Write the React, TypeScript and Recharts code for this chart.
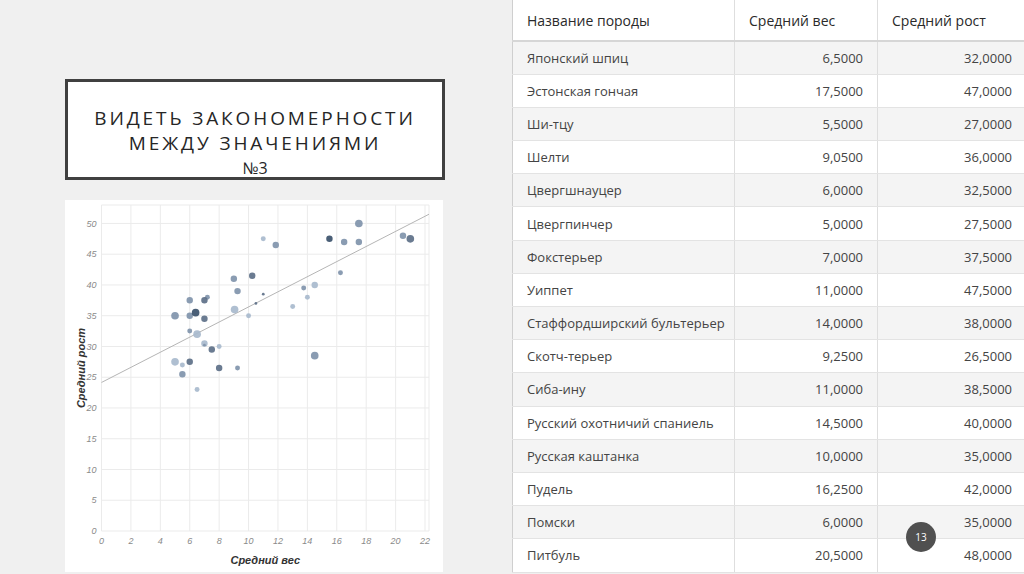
import {
  CartesianGrid,
  ReferenceLine,
  Scatter,
  ScatterChart,
  XAxis,
  YAxis,
  ZAxis,
} from "recharts";

// таблица пород
const breeds = [
  "Японский шпиц",
  "Эстонская гончая",
  "Ши-тцу",
  "Шелти",
  "Цвергшнауцер",
  "Цвергпинчер",
  "Фокстерьер",
  "Уиппет",
  "Стаффордширский бультерьер",
  "Скотч-терьер",
  "Сиба-ину",
  "Русский охотничий спаниель",
  "Русская каштанка",
  "Пудель",
  "Помски",
  "Питбуль",
];
const avgWeight = [6.5, 17.5, 5.5, 9.05, 6, 5, 7, 11, 14, 9.25, 11, 14.5, 10, 16.25, 6, 20.5];
const avgHeight = [32, 47, 27, 36, 32.5, 27.5, 37.5, 47.5, 38, 26.5, 38.5, 40, 35, 42, 35, 48];

// точки диаграммы рассеяния
const pointWeight = [
  5, 5, 5.5, 5.5, 6, 6, 6, 6, 6.4, 6.5, 6.5, 7, 7.2, 7, 7, 7, 7.5, 8, 8, 9, 9.05, 9.25, 9.25, 10,
  10.25, 10.5, 11, 11, 11.85, 13, 13.75, 14, 14.5, 14.5, 15.5, 16.5, 16.25, 17.5, 17.5, 20.5, 21,
];
const pointHeight = [
  35, 27.5, 27, 25.5, 37.5, 35, 32.5, 27.5, 35.5, 32, 23, 37.5, 38, 34.5, 30.5, 30.2, 29.5, 30, 26.5,
  41, 36, 39, 26.5, 35, 41.5, 37, 47.5, 38.5, 46.5, 36.5, 39.5, 38, 40, 28.5, 47.5, 47, 42, 50, 47,
  48, 47.5,
];
const pointCount = [
  4, 4, 2, 3, 3, 3, 2, 3, 4, 4, 2, 3, 2, 3, 3, 1, 3, 2, 3, 3, 4, 3, 2, 2, 3, 1, 2, 1, 3, 2, 2, 2, 3,
  4, 3, 3, 2, 4, 3, 3, 4,
];
const pointGroup = [
  1, 0, 0, 1, 1, 1, 1, 2, 3, 0, 0, 2, 1, 2, 0, 1, 2, 0, 2, 1, 0, 1, 1, 0, 2, 2, 0, 2, 1, 0, 1, 0, 0,
  1, 3, 1, 1, 1, 1, 1, 2,
];
const trendStart = { x: 0, y: 24.15 };
const trendEnd = { x: 22.27, y: 51.5 };

const xTicks = [0, 2, 4, 6, 8, 10, 12, 14, 16, 18, 20, 22];
const yTicks = [0, 5, 10, 15, 20, 25, 30, 35, 40, 45, 50];

const groupColors = ["#a8bacd", "#8094ab", "#5d7088", "#3b516b"];

const points = pointWeight.map((x, i) => ({
  x,
  y: pointHeight[i],
  z: pointCount[i],
  g: pointGroup[i],
}));

const fmt = (v: number) => v.toFixed(4).replace(".", ",");

const tickStyle = {
  fill: "#8a8a8a",
  fontSize: 9,
  fontStyle: "italic",
  fontFamily: "Liberation Sans, sans-serif",
};

const titleFont = {
  fill: "#333",
  fontSize: 11,
  fontStyle: "italic",
  fontWeight: 700,
  fontFamily: "Liberation Sans, sans-serif",
};

function YTitle(props: any) {
  const vb = props.viewBox || { x: 0, y: 0, width: 0, height: 0 };
  const cx = 16;
  const cy = vb.y + vb.height / 2;
  return (
    <text
      transform={`translate(${cx},${cy}) rotate(-90)`}
      textAnchor="middle"
      dominantBaseline="central"
      style={titleFont}
    >
      Средний рост
    </text>
  );
}

function XTitle(props: any) {
  const vb = props.viewBox || { x: 0, y: 0, width: 0, height: 0 };
  return (
    <text
      x={vb.x + vb.width / 2}
      y={360}
      textAnchor="middle"
      dominantBaseline="central"
      style={titleFont}
    >
      Средний вес
    </text>
  );
}

const cellBase: React.CSSProperties = {
  borderBottom: "1px solid #e3e3e3",
  borderRight: "1px solid #dedede",
  padding: "0 14px",
  whiteSpace: "nowrap",
  overflow: "hidden",
};

export default function App() {
  return (
    <div
      style={{
        position: "absolute",
        left: 0,
        top: 0,
        width: 1024,
        height: 574,
        overflow: "hidden",
        background: "#f0f0f0",
        fontFamily: "'Open Sans', sans-serif",
      }}
    >
      <div
        style={{
          position: "absolute",
          left: 65,
          top: 79,
          width: 380,
          height: 101,
          boxSizing: "border-box",
          border: "3px solid #404040",
          background: "#fff",
          textAlign: "center",
          color: "#262626",
          paddingTop: 24,
        }}
      >
        <div style={{ fontSize: 19, letterSpacing: 2.9, lineHeight: "25px" }}>ВИДЕТЬ ЗАКОНОМЕРНОСТИ</div>
        <div style={{ fontSize: 19, letterSpacing: 2.9, lineHeight: "25px" }}>МЕЖДУ ЗНАЧЕНИЯМИ</div>
        <div style={{ fontSize: 16, lineHeight: "24px" }}>№3</div>
      </div>

      <div style={{ position: "absolute", left: 65, top: 200, width: 378, height: 372, background: "#fff" }}>
        <ScatterChart width={378} height={372} margin={{ top: 5, right: 14, left: 0, bottom: 0 }}>
          <CartesianGrid stroke="#ebebeb" strokeWidth={1} />
          <XAxis
            type="number"
            dataKey="x"
            domain={[0, 22.27]}
            ticks={xTicks}
            interval={0}
            axisLine={false}
            tickLine={false}
            tickSize={5}
            tickMargin={2}
            height={41}
            tick={tickStyle}
            label={<XTitle />}
          />
          <YAxis
            type="number"
            dataKey="y"
            domain={[0, 53]}
            ticks={yTicks}
            interval={0}
            axisLine={false}
            tickLine={false}
            tickSize={3}
            tickMargin={2}
            width={36.5}
            tick={tickStyle}
            label={<YTitle />}
          />
          <ZAxis type="number" dataKey="z" domain={[1, 4]} range={[6, 46]} />
          <ReferenceLine
            segment={[trendStart, trendEnd]}
            stroke="#b5b5b5"
            strokeWidth={1}
            ifOverflow="visible"
          />
          {groupColors.map((c, gi) => (
            <Scatter
              key={gi}
              data={points.filter((p) => p.g === gi)}
              fill={c}
              fillOpacity={0.92}
              shape="circle"
              isAnimationActive={false}
            />
          ))}
        </ScatterChart>
      </div>

      <table
        style={{
          position: "absolute",
          left: 512,
          top: 0,
          width: 525,
          borderCollapse: "collapse",
          tableLayout: "fixed",
          background: "#fff",
          borderLeft: "1px solid #cfcfcf",
          color: "#444",
          fontSize: 13,
        }}
      >
        <colgroup>
          <col style={{ width: 222 }} />
          <col style={{ width: 143 }} />
          <col style={{ width: 160 }} />
        </colgroup>
        <thead>
          <tr style={{ height: 41 }}>
            {["Название породы", "Средний вес", "Средний рост"].map((h) => (
              <th
                key={h}
                style={{
                  ...cellBase,
                  borderBottom: "2px solid #d6d6d6",
                  fontWeight: 400,
                  fontSize: 14,
                  color: "#2a2a2a",
                  textAlign: "left",
                }}
              >
                {h}
              </th>
            ))}
          </tr>
        </thead>
        <tbody>
          {breeds.map((b, i) => (
            <tr key={b} style={{ height: 33.2, background: i % 2 === 0 ? "#f4f4f4" : "#fff" }}>
              <td style={cellBase}>{b}</td>
              <td style={{ ...cellBase, textAlign: "right" }}>{fmt(avgWeight[i])}</td>
              <td style={{ ...cellBase, textAlign: "right", paddingRight: 25 }}>{fmt(avgHeight[i])}</td>
            </tr>
          ))}
        </tbody>
      </table>

      <div
        style={{
          position: "absolute",
          left: 906,
          top: 522,
          width: 30,
          height: 30,
          borderRadius: 15,
          background: "#505050",
          color: "#fff",
          fontSize: 10,
          lineHeight: "30px",
          textAlign: "center",
        }}
      >
        13
      </div>
    </div>
  );
}
